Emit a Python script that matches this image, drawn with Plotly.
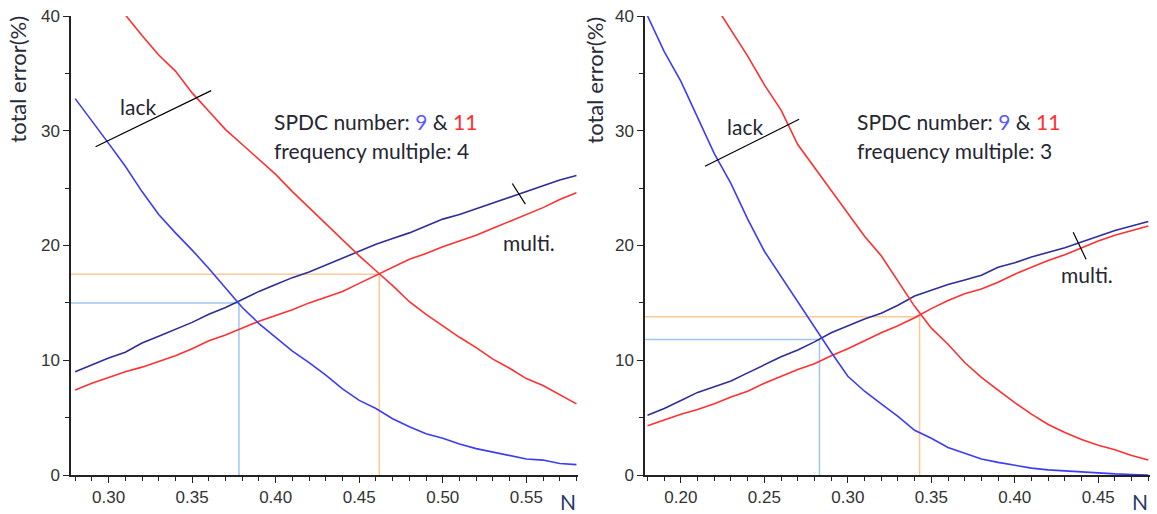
import plotly.graph_objects as go

# ---------------- data ----------------
n_left = [0.28, 0.29, 0.30, 0.31, 0.32, 0.33, 0.34, 0.35, 0.36, 0.37, 0.38, 0.39, 0.40, 0.41, 0.42,
          0.43, 0.44, 0.45, 0.46, 0.47, 0.48, 0.49, 0.50, 0.51, 0.52, 0.53, 0.54, 0.55, 0.56, 0.57, 0.58]
lack9_left = [32.8, 30.9, 28.9, 26.9, 24.7, 22.7, 21.1, 19.6, 18.0, 16.3, 14.6, 13.2, 12.0, 10.8, 9.8,
              8.7, 7.5, 6.5, 5.8, 4.9, 4.2, 3.6, 3.2, 2.7, 2.3, 2.0, 1.7, 1.4, 1.3, 1.0, 0.9]
lack11_left = [45.2, 43.5, 41.8, 40.1, 38.3, 36.6, 35.2, 33.3, 31.7, 30.1, 28.8, 27.5, 26.2, 24.7, 23.3,
               21.9, 20.5, 19.1, 17.8, 16.5, 15.1, 14.0, 13.0, 12.0, 11.1, 10.1, 9.3, 8.4, 7.8, 7.0, 6.2]
multi9_left = [9.0, 9.6, 10.2, 10.7, 11.5, 12.1, 12.7, 13.3, 14.0, 14.6, 15.3, 16.0, 16.6, 17.2, 17.7,
               18.3, 18.9, 19.5, 20.1, 20.6, 21.1, 21.7, 22.3, 22.7, 23.2, 23.7, 24.2, 24.7, 25.2, 25.7, 26.1]
multi11_left = [7.4, 8.0, 8.5, 9.0, 9.4, 9.9, 10.4, 11.0, 11.7, 12.2, 12.8, 13.4, 13.9, 14.4, 15.0,
                15.5, 16.0, 16.7, 17.4, 18.1, 18.8, 19.3, 19.9, 20.4, 20.9, 21.5, 22.1, 22.7, 23.3, 24.0, 24.6]

n_right = [0.18, 0.19, 0.20, 0.21, 0.22, 0.23, 0.24, 0.25, 0.26, 0.27, 0.28, 0.29, 0.30, 0.31, 0.32,
           0.33, 0.34, 0.35, 0.36, 0.37, 0.38, 0.39, 0.40, 0.41, 0.42, 0.43, 0.44, 0.45, 0.46, 0.47, 0.48]
lack9_right = [40.0, 36.9, 34.3, 31.2, 28.0, 25.4, 22.3, 19.5, 17.3, 15.1, 12.8, 10.7, 8.6, 7.3, 6.2,
               5.1, 3.9, 3.2, 2.4, 1.9, 1.4, 1.1, 0.85, 0.6, 0.45, 0.35, 0.25, 0.2, 0.1, 0.05, 0.0]
lack11_right = [50.0, 48.0, 45.6, 43.3, 41.0, 38.7, 36.5, 34.0, 31.8, 28.8, 26.8, 24.7, 22.7, 20.8, 19.1,
                16.9, 14.7, 12.8, 11.4, 9.8, 8.5, 7.4, 6.3, 5.3, 4.4, 3.7, 3.1, 2.6, 2.2, 1.7, 1.3]
multi9_right = [5.2, 5.8, 6.5, 7.2, 7.7, 8.2, 8.9, 9.6, 10.3, 10.9, 11.6, 12.4, 13.0, 13.6, 14.1,
                14.8, 15.6, 16.1, 16.6, 17.0, 17.4, 18.1, 18.5, 19.0, 19.4, 19.8, 20.3, 20.8, 21.3, 21.7, 22.1]
multi11_right = [4.3, 4.8, 5.3, 5.7, 6.2, 6.8, 7.3, 8.0, 8.6, 9.2, 9.7, 10.4, 11.0, 11.7, 12.4,
                 13.0, 13.7, 14.5, 15.2, 15.8, 16.2, 16.8, 17.5, 18.1, 18.7, 19.2, 19.8, 20.4, 20.9, 21.3, 21.7]

# crossing points (N, error) marked by guide lines
cross9_left = (0.378, 15.0)
cross11_left = (0.462, 17.5)
cross9_right = (0.283, 11.8)
cross11_right = (0.343, 13.8)

x_range_left = [0.2775, 0.581]
x_range_right = [0.1785, 0.481]
y_range = [0, 40]

x_ticks_left = [0.30, 0.35, 0.40, 0.45, 0.50, 0.55]
x_ticks_right = [0.20, 0.25, 0.30, 0.35, 0.40, 0.45]
y_ticks = [0, 10, 20, 30, 40]

# ---------------- styles ----------------
C_LACK9 = "#3c3cf5"
C_MULTI9 = "#2e2e96"
C_RED = "#ff3030"
C_GUIDE9 = "#9cc8f2"
C_GUIDE11 = "#fcc996"
TXT = "#262633"
TICK_FONT = dict(family="Liberation Sans", size=17, color="#333333")
ANN_FONT = dict(family="Lato", size=21, color=TXT)
TITLE_FONT = dict(family="Lato", size=22, color="#2a2a3a")

fig = go.Figure()


def add_panel(xa, ya, n, l9, l11, m9, m11, c9, c11, xr):
    for (cx, cy), col in ((c9, C_GUIDE9), (c11, C_GUIDE11)):
        fig.add_trace(go.Scatter(x=[xr[0], cx, cx], y=[cy, cy, 0], mode="lines",
                                 line=dict(color=col, width=1.5), xaxis=xa, yaxis=ya,
                                 showlegend=False, hoverinfo="skip"))
    for ys, col in ((m11, C_RED), (m9, C_MULTI9), (l11, C_RED), (l9, C_LACK9)):
        fig.add_trace(go.Scatter(x=n, y=ys, mode="lines", line=dict(color=col, width=1.6),
                                 xaxis=xa, yaxis=ya, showlegend=False))


add_panel("x", "y", n_left, lack9_left, lack11_left, multi9_left, multi11_left,
          cross9_left, cross11_left, x_range_left)
add_panel("x2", "y2", n_right, lack9_right, lack11_right, multi9_right, multi11_right,
          cross9_right, cross11_right, x_range_right)

# black marker strokes for "lack" and "multi."
strokes = [
    ("x", "y", [0.2922, 0.3614], [28.6, 33.5]),
    ("x", "y", [0.5416, 0.5494], [25.4, 23.6]),
    ("x2", "y2", [0.2144, 0.2708], [26.9, 31.0]),
    ("x2", "y2", [0.4350, 0.4427], [21.15, 18.8]),
]
for xa, ya, xs, ys in strokes:
    fig.add_trace(go.Scatter(x=xs, y=ys, mode="lines", line=dict(color="black", width=1.2),
                             xaxis=xa, yaxis=ya, showlegend=False, hoverinfo="skip"))

axis_common = dict(showgrid=False, zeroline=False, showline=True, linecolor="#222222", linewidth=1.5,
                   ticks="outside", ticklen=6, tickwidth=1.2, tickcolor="#222222", tickfont=TICK_FONT,
                   minor=dict(ticks="outside", ticklen=4, tickwidth=1, tickcolor="#222222"))

fig.update_layout(
    width=1157, height=514,
    margin=dict(l=71, r=7, t=16, b=36),
    paper_bgcolor="white", plot_bgcolor="white",
    xaxis=dict(domain=[0, 0.470], range=x_range_left, tickvals=x_ticks_left, tickformat=".2f",
               anchor="y", minor_dtick=0.01, **axis_common),
    yaxis=dict(range=y_range, tickvals=y_ticks, anchor="x", minor_dtick=5, **axis_common),
    xaxis2=dict(domain=[0.532, 1], range=x_range_right, tickvals=x_ticks_right, tickformat=".2f",
                anchor="y2", minor_dtick=0.01, **axis_common),
    yaxis2=dict(range=y_range, tickvals=y_ticks, anchor="x2", minor_dtick=5, **axis_common),
)
for ax in ("xaxis", "xaxis2", "yaxis", "yaxis2"):
    fig.layout[ax].minor.tick0 = 0

anns = []
# axis titles
for px in (-0.0491, 0.4856):
    anns.append(dict(text="total error(%)", xref="paper", yref="paper", x=px, y=1.004,
                     xanchor="center", yanchor="top", textangle=-90, showarrow=False, font=TITLE_FONT))
for xr in ("x domain", "x2 domain"):
    anns.append(dict(text="N", xref=xr, yref="paper", x=1.0, y=-0.058, xanchor="right",
                     yanchor="middle", showarrow=False, font=dict(family="Lato", size=21, color="#2a3a66")))

# info text
info = [("x", "y", 0.3976, "4"), ("x2", "y2", 0.3042, "3")]
for xa, ya, xx, mult in info:
    anns.append(dict(text="SPDC number: <span style='color:#5a5aff'>9</span> &amp; "
                          "<span style='color:#ff3030'>11</span>",
                     xref=xa, yref=ya, x=xx, y=30.8, xanchor="left", yanchor="middle",
                     showarrow=False, font=ANN_FONT))
    anns.append(dict(text="frequency multiple: " + mult, xref=xa, yref=ya, x=xx, y=28.3,
                     xanchor="left", yanchor="middle", showarrow=False, font=ANN_FONT))

# curve labels
anns += [
    dict(text="lack", xref="x", yref="y", x=0.3175, y=32.1, showarrow=False, font=ANN_FONT),
    dict(text="multi.", xref="x", yref="y", x=0.5518, y=20.3, showarrow=False, font=ANN_FONT),
    dict(text="lack", xref="x2", yref="y2", x=0.2383, y=30.4, showarrow=False, font=ANN_FONT),
    dict(text="multi.", xref="x2", yref="y2", x=0.4430, y=17.5, showarrow=False, font=ANN_FONT),
]
fig.update_layout(annotations=anns)

fig.write_html("out.html", config={"displayModeBar": False},
               post_script="document.body.style.margin='0';document.body.style.overflow='hidden';")
